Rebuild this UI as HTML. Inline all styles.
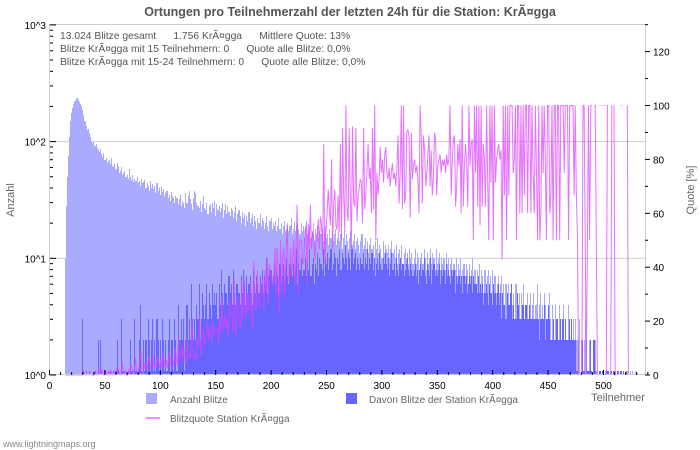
<!DOCTYPE html>
<html><head><meta charset="utf-8"><style>
body{margin:0;background:#fff;}
svg{display:block;font-family:"Liberation Sans","DejaVu Sans",sans-serif;}
#bars rect{shape-rendering:crispEdges;}
</style></head><body>
<svg id="chart" width="700" height="450" viewBox="0 0 700 450">
<rect width="700" height="450" fill="#fff"/>
<text x="350" y="16" text-anchor="middle" font-size="12.5" font-weight="bold" fill="#555">Ortungen pro Teilnehmerzahl der letzten 24h für die Station: KrÃ¤gga</text>
<g id="grid"></g>
<g id="bars"></g>
<g id="line"></g>
<rect x="49.5" y="24.5" width="596" height="350" fill="none" stroke="#ccc"/>
<g id="axes"></g>
<g font-size="10.3" fill="#555">
<text x="60" y="39">13.024 Blitze gesamt &#160;&#160;&#160;&#160; 1.756 KrÃ¤gga &#160;&#160;&#160;&#160; Mittlere Quote: 13%</text>
<text x="60" y="52">Blitze KrÃ¤gga mit 15 Teilnehmern: 0 &#160;&#160;&#160;&#160; Quote alle Blitze: 0,0%</text>
<text x="60" y="65">Blitze KrÃ¤gga mit 15-24 Teilnehmern: 0 &#160;&#160;&#160;&#160; Quote alle Blitze: 0,0%</text>
</g>
<text x="14" y="200" font-size="11" fill="#666" transform="rotate(-90 14 200)" text-anchor="middle">Anzahl</text>
<text x="694" y="190" font-size="11" fill="#666" transform="rotate(-90 694 190)" text-anchor="middle">Quote [%]</text>
<text x="618" y="401" font-size="11" fill="#666" text-anchor="middle">Teilnehmer</text>
<g font-size="10" fill="#666">
<rect x="146" y="393" width="11" height="11" fill="#aaaaff"/>
<text x="170" y="403">Anzahl Blitze</text>
<rect x="346" y="393" width="11" height="11" fill="#6666ff"/>
<text x="369" y="403">Davon Blitze der Station KrÃ¤gga</text>
<line x1="146" y1="418" x2="160" y2="418" stroke="#e070ff" stroke-width="1.5"/>
<text x="170" y="422">Blitzquote Station KrÃ¤gga</text>
</g>
<text x="3" y="447" font-size="9" fill="#888">www.lightningmaps.org</text>
</svg>
<script>
const totalCounts=[25,0,0,0,0,0,0,0,0,0,0,0,0,0,10,
28,50,75,110,150,175,195,210,225,238,
236,228,218,212,200,185,170,150,135,125,
128,118,110,102,98,100,92,95,88,84,
82,86,78,74,80,70,72,66,68,70,
64,72,62,60,64,58,66,62,54,56,
60,52,54,56,50,52,48,58,50,47,
52,45,48,46,50,44,46,42,48,44,
45,47,40,44,42,38,46,40,43,39,
42,36,44,38,40,35,41,37,39,34,
36,38,33,35,31,37,34,33,30,34,
33,29,32,35,28,31,30,27,36,30,
34,38,32,29,26,33,38,36,30,28,
27,31,25,29,34,27,26,30,24,28,
29,25,30,27,31,23,29,26,28,25,
27,30,22,26,29,24,28,25,23,27,
26,22,25,28,21,24,26,23,20,25,
22,24,19,23,21,25,20,22,24,19,
23,21,18,22,20,24,19,22,21,18,
20,23,19,17,21,22,18,20,19,21,
17,19,22,18,20,16,19,21,17,18,
20,17,19,22,16,18,21,17,19,20,
18,16,20,17,19,15,18,21,16,17,
19,15,17,20,14,18,16,19,15,17,
16,18,14,17,19,15,16,13,18,15,
17,14,16,18,13,15,17,14,16,12,
15,17,13,16,14,12,15,17,13,14,
16,12,14,15,13,11,14,16,12,13,
15,12,14,11,13,15,12,13,10,14,
12,15,11,13,12,10,14,11,13,12,
11,13,10,12,14,11,12,10,13,9,
11,12,10,13,9,11,12,10,11,9,
12,10,11,9,10,12,9,11,10,8,
10,11,9,12,10,8,11,9,10,12,
9,11,10,8,12,9,10,11,8,10,
9,10,8,11,9,10,7,9,10,8,
9,8,10,7,9,8,10,7,8,9,
7,9,8,6,9,7,8,10,7,8,
6,8,7,9,6,8,7,5,8,6,
7,8,6,7,5,8,6,7,5,6,
7,5,6,7,5,6,4,6,5,6,
4,5,6,4,5,3,6,5,4,5,
3,5,4,6,3,4,5,3,4,5,
3,4,5,3,4,6,3,4,5,3,
4,3,5,4,3,4,5,3,2,4,
3,2,4,3,2,4,3,2,3,4,
2,3,2,4,3,2,3,2,3,2,
3,2,2,3,0,2,2,1,2,3,
2,1,2,2,1,0,2,2,2,1,
0,1,1,0,1,1,0,1,1,1,
0,1,1,0,1,1,1,0,1,0,
1,1,0,1,0,0,1,1,0,1,
0,1,0,0,1,0,0,0,0,0];
const stationCounts=[0,0,0,0,0,0,0,0,0,0,0,0,0,0,0,0,0,0,0,0,0,0,0,0,0,0,0,0,0,0,
3,1,0,1,0,0,1,0,0,0,
0,1,0,0,2,0,2,1,0,0,
1,0,0,1,0,1,0,0,1,0,
1,2,1,0,0,3,1,0,1,0,
0,1,0,2,1,1,0,3,1,0,
1,2,4,1,0,2,1,2,1,3,
2,1,2,3,1,2,1,3,2,1,
2,1,3,2,1,2,1,2,3,1,
2,2,1,3,2,1,4,2,2,3,
2,3,1,2,4,2,3,2,6,3,
2,3,2,4,3,6,2,3,5,4,
3,4,6,3,5,4,3,6,4,5,
4,5,3,6,4,8,5,4,6,5,
5,4,7,5,6,4,8,5,4,6,
6,5,4,7,5,8,6,4,7,5,
6,7,5,4,8,6,5,7,6,5,
7,6,8,5,7,6,10,5,7,8,
8,6,7,9,6,8,7,5,9,6,
7,9,6,8,10,7,6,9,8,7,
9,7,8,12,6,9,8,10,7,8,
8,10,7,9,8,12,7,9,10,6,
9,8,11,7,10,9,8,12,7,10,
9,11,8,10,12,8,9,11,10,7,
10,9,12,8,11,10,9,13,10,8,
11,10,8,12,9,10,11,8,10,9,
8,10,9,11,8,10,9,12,8,10,
9,11,8,10,7,9,10,8,11,9,
8,10,9,11,9,8,10,7,9,11,
8,9,7,10,8,7,9,10,8,9,
7,8,9,10,8,7,9,8,7,8,
9,7,8,6,8,9,7,8,10,7,
6,9,8,7,10,6,8,9,7,8,
7,8,9,6,8,7,8,6,9,7,
8,7,6,8,7,8,5,7,6,7,
7,6,8,5,7,6,7,5,8,7,
6,7,5,7,6,6,5,7,5,6,
5,6,4,5,6,5,4,7,5,6,
4,6,5,4,5,6,4,5,3,5,
4,5,3,5,4,4,5,6,3,4,
4,3,5,4,3,5,3,4,4,3,
4,3,4,5,3,4,3,3,4,3,
3,4,2,3,4,3,3,4,2,3,
4,3,2,4,2,3,3,2,4,3,
2,3,2,3,3,2,3,2,2,3,
2,3,2,2,3,2,1,0,0,0,
0,2,1,1,0,1,2,1,2,1,
0,2,2,1,0,0,1,1,0,1,
1,0,0,1,1,1,0,1,1,1,
0,0,1,1,0,1,1,0,1,0,
0,1,0,0,0,1,0,0,1,0,
0,0,0,0,0];
const xTickLabels=[0,50,100,150,200,250,300,350,400,450,500];
const yTickLabels=["10^0","10^1","10^2","10^3"];
const y2TickLabels=[0,20,40,60,80,100,120];

const NS="http://www.w3.org/2000/svg";
const X0=49.5,XS=1.108,YB=375,DEC=116.7,Q0=375,QS=2.695;
const xs=n=>X0+n*XS;
const ys=v=>YB-Math.log10(v)*DEC;
const yq=q=>Q0-q*QS;
function mk(t,a,p){const e=document.createElementNS(NS,t);for(const k in a)e.setAttribute(k,a[k]);p.appendChild(e);return e;}
const grid=document.getElementById('grid'),bars=document.getElementById('bars'),line=document.getElementById('line'),axes=document.getElementById('axes');
[1,2].forEach(d=>{const l=mk('line',{x1:50,x2:645,y1:ys(Math.pow(10,d)),y2:ys(Math.pow(10,d)),stroke:'#ccc'},grid);

});
function bar(n,v,fill,name){
  if(!(v>0))return;
  let top=ys(v);if(YB-top<4)top=YB-4;
  const x=Math.floor(xs(n)), x2=Math.floor(xs(n+1));
  const r=mk('rect',{x:x,y:Math.round(top),width:Math.max(1,x2-x+ (v>0&&totalCounts[n+1]>0?0:0)),height:YB-Math.round(top),fill:fill},bars);
  
  
}
totalCounts.forEach((v,n)=>bar(n,v,'#aaaaff','bar-total'));
stationCounts.forEach((v,n)=>bar(n,Math.min(v,totalCounts[n]||0),'#6666ff','bar-station'));
let d='';let started=false;
totalCounts.forEach((t,n)=>{
  if(!(t>0)){started=false;return;}
  const q=Math.min(100,Math.min(stationCounts[n]||0,t)/t*100);
  const x=xs(n)+XS/2,y=yq(q);
  d+=(started?'L':'M')+x.toFixed(1)+' '+y.toFixed(1)+' ';started=true;
});
const pl=mk('path',{d:d,fill:'none',stroke:'#dd44ff','stroke-opacity':0.75,'stroke-width':1},line);


for(let n=0;n<=540;n+=10){mk('line',{x1:xs(n),x2:xs(n),y1:375,y2:n%50?372:370,stroke:'#000'},axes);}
xTickLabels.forEach(v=>{const t=mk('text',{x:xs(v),y:389,'font-size':10,'text-anchor':'middle',fill:'#000'},axes);t.textContent=v;

});
yTickLabels.forEach((s,i)=>{const y=ys(Math.pow(10,i));const t=mk('text',{x:46,y:y+4,'font-size':10,'text-anchor':'end',fill:'#000'},axes);t.textContent=s;


mk('line',{x1:50,x2:56,y1:y,y2:y,stroke:'#000'},axes);
if(i<3)for(let m=2;m<10;m++){const yy=ys(m*Math.pow(10,i));mk('line',{x1:50,x2:53,y1:yy,y2:yy,stroke:'#000'},axes);}});
for(let q=0;q<=130;q+=10){mk('line',{x1:645,x2:q%20?648:650,y1:yq(q),y2:yq(q),stroke:'#000'},axes);}
y2TickLabels.forEach(q=>{const t=mk('text',{x:653,y:yq(q)+4,'font-size':10,fill:'#000'},axes);t.textContent=q;

});
</script>
</body></html>
